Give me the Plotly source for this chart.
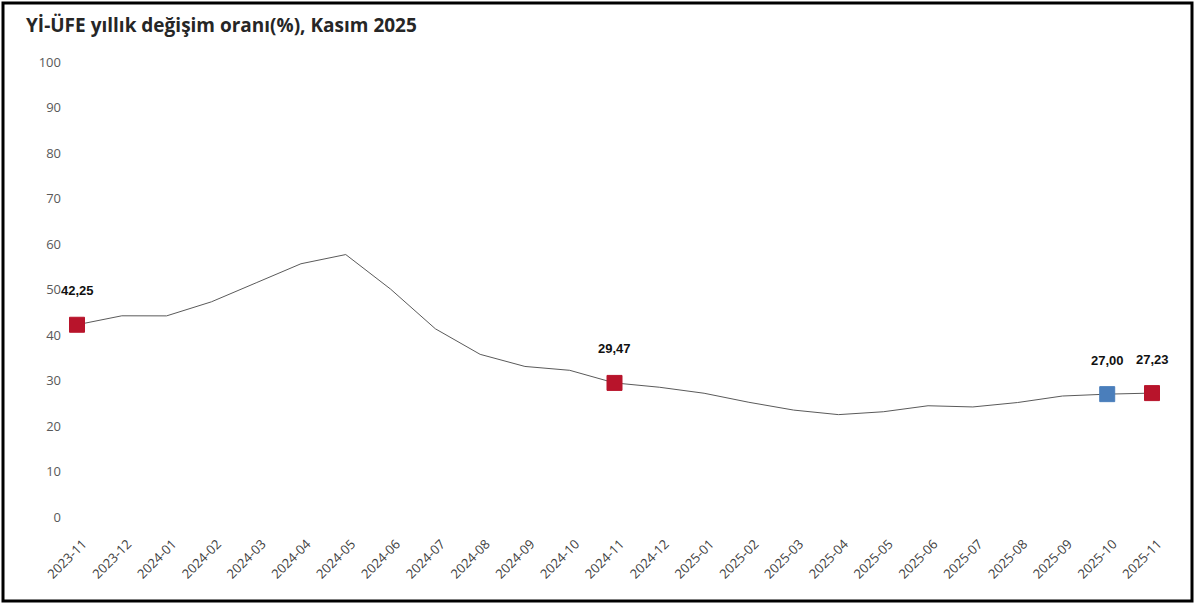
import plotly.graph_objects as go

# ---- data ----
months = ["2023-11", "2023-12", "2024-01", "2024-02", "2024-03", "2024-04", "2024-05",
          "2024-06", "2024-07", "2024-08", "2024-09", "2024-10", "2024-11", "2024-12",
          "2025-01", "2025-02", "2025-03", "2025-04", "2025-05", "2025-06", "2025-07",
          "2025-08", "2025-09", "2025-10", "2025-11"]
values = [42.25, 44.22, 44.20, 47.29, 51.47, 55.66, 57.68,
          50.09, 41.37, 35.75, 33.09, 32.24, 29.47, 28.52,
          27.20, 25.21, 23.50, 22.50, 23.13, 24.45, 24.19,
          25.16, 26.59, 27.00, 27.23]
highlight_months = ["2023-11", "2024-11", "2025-10", "2025-11"]
y_ticks = [0, 10, 20, 30, 40, 50, 60, 70, 80, 90, 100]
title_text = "Yİ-ÜFE yıllık değişim oranı(%), Kasım 2025"

# ---- styles ----
highlight_style = {"2023-11": "#B8142B", "2024-11": "#B8142B",
                   "2025-10": "#4A7EBB", "2025-11": "#B8142B"}
W, H = 1195, 604
ML, MR, MT, MB = 62, 21, 62, 87
PW, PH = W - ML - MR, H - MT - MB

fig = go.Figure()
fig.add_trace(go.Scatter(x=months, y=values, mode="lines",
                         line=dict(color="#5a5a5a", width=1), hoverinfo="skip",
                         showlegend=False))

hv = [values[months.index(m)] for m in highlight_months]
fig.add_trace(go.Scatter(
    x=highlight_months, y=hv, mode="markers",
    marker=dict(symbol="square", size=15,
                color=[highlight_style[m] for m in highlight_months],
                line=dict(width=1, color=[highlight_style[m] for m in highlight_months])),
    showlegend=False))

for m, v in zip(highlight_months, hv):
    fig.add_annotation(x=m, y=v, text="<b>" + f"{v:.2f}".replace(".", ",") + "</b>",
                       showarrow=False, yshift=34,
                       font=dict(family="Liberation Sans, Arial", size=13, color="#111111"))

# outer border
fig.add_shape(type="rect", xref="paper", yref="paper",
              x0=(3 - ML) / PW, x1=(W - 3 - ML) / PW,
              y0=(H - MB - (H - 3)) / PH, y1=(H - MB - 3) / PH,
              line=dict(color="#000000", width=3), fillcolor="rgba(0,0,0,0)", layer="above")

n = len(months)
step = (1152 - 77) / (n - 1)
x0r = -(77 - ML) / step
x1r = (n - 1) + (ML + PW - 1152) / step

fig.update_layout(
    width=W, height=H,
    margin=dict(l=ML, r=MR, t=MT, b=MB),
    paper_bgcolor="white", plot_bgcolor="white",
    title=dict(text="<b>" + title_text + "</b>", xref="container", yref="container",
               x=26 / W, xanchor="left", y=1 - 25 / H, yanchor="middle",
               font=dict(family="Open Sans", size=19, color="#262626")),
    xaxis=dict(type="category", range=[x0r, x1r], showgrid=False, zeroline=False,
               showline=False, tickangle=-45, ticks="",
               ticklabelstandoff=16, ticklabelshift=6,
               tickfont=dict(family="Open Sans", size=13, color="#404040")),
    yaxis=dict(range=[0, 100], tickvals=y_ticks, showgrid=False, zeroline=False,
               showline=False, ticks="",
               tickfont=dict(family="Open Sans", size=13, color="#595959")),
)

fig.write_html("out.html", config={"displayModeBar": False},
               post_script="document.body.style.margin='0';")
